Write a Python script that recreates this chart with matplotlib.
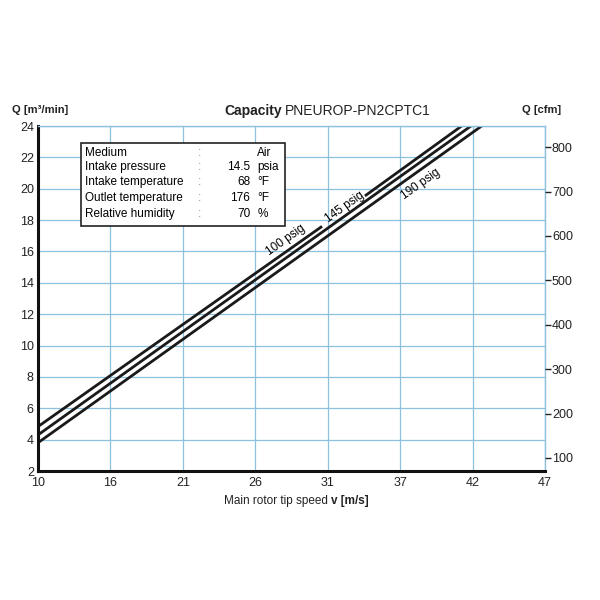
'''Capacity chart, PNEUROP-PN2CPTC1'''
import numpy as np
import matplotlib
matplotlib.use('Agg')
import matplotlib.pyplot as plt

plt.rcParams['font.family'] = ['Liberation Sans', 'DejaVu Sans']

# x axis: evenly spaced tick labels on tip speed
X_TICK_LABELS = ['10', '16', '21', '26', '31', '37', '42', '47']
Y_TICKS = [2, 4, 6, 8, 10, 12, 14, 16, 18, 20, 22, 24]
CFM_TICKS = [100, 200, 300, 400, 500, 600, 700, 800]
M3MIN_TO_CFM = 35.3147

# lines (tip speed, Q m3/min); nan = gap for label
speed_100 = [10, 30.73, np.nan, 33.86, 40.92]
q_100 = [4.83, 17.60, np.nan, 19.54, 24.0]
speed_145 = [10, 41.6]
q_145 = [4.3, 24.0]
speed_190 = [10, 42.38]
q_190 = [3.8, 24.0]

INFO_LABELS = ['Medium', 'Intake pressure', 'Intake temperature', 'Outlet temperature', 'Relative humidity']
INFO_VALUES = ['', '14.5', '68', '176', '70']
INFO_UNITS = ['Air', 'psia', '°F', '°F', '%']


def main():
	fig = plt.figure(figsize=(6, 6), dpi=100)
	ax = fig.add_axes([0.0633, 0.215, 0.845, 0.575])
	grid_col = '#8ec1df'
	xmin, xmax = 10, 47
	ax.set_xlim(xmin, xmax)
	ax.set_ylim(2, 24)
	xt = np.linspace(xmin, xmax, len(X_TICK_LABELS))
	ax.set_xticks(xt)
	ax.set_xticklabels(X_TICK_LABELS)
	ax.set_yticks(Y_TICKS)
	ax.grid(True, color=grid_col, linewidth=0.9)
	ax.tick_params(length=0, labelsize=9, colors='#222222')
	ax.tick_params(axis='y', pad=3)
	ax.tick_params(axis='x', pad=4.5)
	for s in ['left', 'bottom']:
		ax.spines[s].set_linewidth(2.2)
		ax.spines[s].set_color('#111111')
	for s in ['top', 'right']:
		ax.spines[s].set_linewidth(1.0)
		ax.spines[s].set_color(grid_col)

	for sx, sq in [(speed_100, q_100), (speed_145, q_145), (speed_190, q_190)]:
		ax.plot(sx, sq, color='#1a1a1a', linewidth=2.0, solid_capstyle='butt', clip_on=True)

	ang = 35.4
	ax.text(28.1, 16.73, '100 psig', rotation=ang, fontsize=8.5, ha='center', va='center', rotation_mode='anchor')
	ax.text(32.4, 18.84, '145 psig', rotation=ang, fontsize=8.5, ha='center', va='center', rotation_mode='anchor')
	ax.text(37.9, 20.3, '190 psig', rotation=ang, fontsize=8.5, ha='center', va='center', rotation_mode='anchor')

	# info box
	ax.add_patch(plt.Rectangle((13.14, 17.62), 14.9, 5.3, transform=ax.transData,
		facecolor='white', edgecolor='#222222', linewidth=1.2, zorder=3))
	ys = [22.28, 21.39, 20.43, 19.41, 18.39]
	for i in range(len(INFO_LABELS)):
		ax.text(13.45, ys[i], INFO_LABELS[i], fontsize=8.5, va='center', zorder=4)
		ax.text(21.65, ys[i], ':', fontsize=8.5, va='center', color='#888888', zorder=4)
		ax.text(25.5, ys[i], INFO_VALUES[i], fontsize=8.5, va='center', ha='right', zorder=4)
		ax.text(26.0, ys[i], INFO_UNITS[i], fontsize=8.5, va='center', zorder=4)

	ax2 = ax.twinx()
	ax2.set_ylim(2 * M3MIN_TO_CFM, 24 * M3MIN_TO_CFM)
	ax2.set_yticks(CFM_TICKS)
	ax2.tick_params(length=4, width=1.0, labelsize=9, pad=1, colors='#222222')
	for s in ax2.spines.values():
		s.set_visible(False)

	fig.text(0.02, 0.812, 'Q [m³/min]', fontsize=8, fontweight='bold', color='#222222')
	fig.text(0.87, 0.812, 'Q [cfm]', fontsize=8, fontweight='bold', color='#222222')
	fig.text(0.47, 0.809, 'Capacity', fontsize=10, fontweight='bold', ha='right', color='#222222')
	fig.text(0.475, 0.809, 'PNEUROP-PN2CPTC1', fontsize=10, ha='left', color='#222222')
	fig.text(0.552, 0.16, 'Main rotor tip speed ', fontsize=8.5, ha='right', color='#222222')
	fig.text(0.552, 0.16, 'v [m/s]', fontsize=8.5, ha='left', fontweight='bold', color='#222222')

	plt.savefig('out.png', dpi=100)
	plt.close()


if __name__ == '__main__':
	main()
